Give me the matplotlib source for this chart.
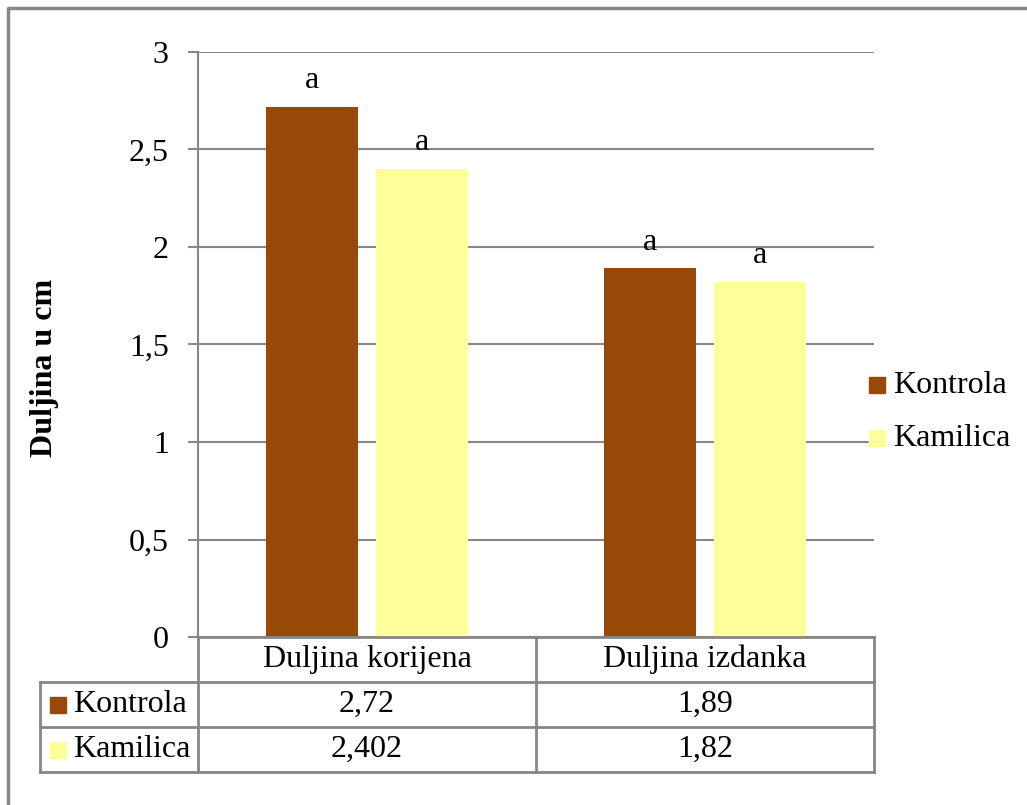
import matplotlib.pyplot as plt
from matplotlib.lines import Line2D
from matplotlib.patches import Rectangle

# Donnees
kategorije = ["Duljina korijena", "Duljina izdanka"]
serije = ["Kontrola", "Kamilica"]
kontrola = [2.72, 1.89]
kamilica = [2.402, 1.82]
tekst_kontrola = ["2,72", "1,89"]
tekst_kamilica = ["2,402", "1,82"]
oznake = ["a", "a"]
yticks = [0, 0.5, 1, 1.5, 2, 2.5, 3]
ytick_labels = ["0", "0,5", "1", "1,5", "2", "2,5", "3"]

boje = ["#984807", "#FFFF99"]
siva = "#878787"

W, H = 1027, 805
plt.rcParams['font.family'] = ['Liberation Serif', 'DejaVu Serif']
fs = 23

fig = plt.figure(figsize=(W / 100, H / 100), dpi=100)

def fx(px):
    return px / W

def fy(py):
    return 1 - py / H

# zone du graphique
x0, x1, y0, y1 = 198, 874, 52, 637
ax = fig.add_axes([fx(x0), fy(y1), fx(x1 - x0), (y1 - y0) / H])

sirina = 0.272
pomak = 0.1625
pos = range(len(kategorije))
ax.bar([p - pomak for p in pos], kontrola, sirina, color=boje[0], zorder=3)
ax.bar([p + pomak for p in pos], kamilica, sirina, color=boje[1], zorder=3)

# lettres de signification
for p, v, o in zip(pos, kontrola, oznake):
    ax.text(p - pomak, v + 0.06, o, ha="center", va="bottom", fontsize=fs)
for p, v, o in zip(pos, kamilica, oznake):
    ax.text(p + pomak, v + 0.06, o, ha="center", va="bottom", fontsize=fs)

ax.set_xlim(-0.5, len(kategorije) - 0.5)
ax.set_ylim(0, 3)
ax.set_yticks(yticks)
ax.set_yticklabels(ytick_labels, fontsize=fs)
ax.set_xticks([])
ax.yaxis.grid(True, color=siva, linewidth=1.5, zorder=0)
ax.tick_params(axis="y", length=7, width=1.5, color=siva, pad=14)
for s in ["top", "right", "bottom"]:
    ax.spines[s].set_visible(False)
ax.spines["left"].set_color(siva)
ax.spines["left"].set_linewidth(1.5)

# titre de l'axe y
fig.text(fx(45), fy(368), "Duljina u cm", rotation=90, ha="center", va="center",
         fontsize=fs, fontweight="bold")

# tableau de donnees
xs = [40, 198, 536, 874]
ys = [637, 682, 727, 772]

def linija(xa, ya, xb, yb):
    fig.add_artist(Line2D([fx(xa), fx(xb)], [fy(ya), fy(yb)], color=siva, linewidth=2))

linija(xs[1], ys[0], xs[3], ys[0])
for y in ys[1:]:
    linija(xs[0], y, xs[3], y)
linija(xs[0], ys[1], xs[0], ys[3])
for x in xs[1:]:
    linija(x, ys[0], x, ys[3])

for i, k in enumerate(kategorije):
    fig.text(fx((xs[i + 1] + xs[i + 2]) / 2), fy((ys[0] + ys[1]) / 2), k,
             ha="center", va="center", fontsize=fs)

redovi = [tekst_kontrola, tekst_kamilica]
for r, (naziv, vrijednosti) in enumerate(zip(serije, redovi)):
    yc = (ys[r + 1] + ys[r + 2]) / 2
    fig.add_artist(Rectangle((fx(50), fy(yc + 8)), fx(16), 16 / H,
                             color=boje[r], transform=fig.transFigure))
    fig.text(fx(73), fy(yc), naziv, ha="left", va="center", fontsize=fs)
    for i, v in enumerate(vrijednosti):
        fig.text(fx((xs[i + 1] + xs[i + 2]) / 2), fy(yc), v,
                 ha="center", va="center", fontsize=fs)

# legende
for r, (naziv, yc) in enumerate(zip(serije, [385, 438])):
    fig.add_artist(Rectangle((fx(869), fy(yc + 8)), fx(16), 16 / H,
                             color=boje[r], transform=fig.transFigure))
    fig.text(fx(893), fy(yc), naziv, ha="left", va="center", fontsize=fs)

# cadre exterieur
fig.add_artist(Line2D([fx(8), fx(8), 1], [0, fy(8), fy(8)], color=siva, linewidth=2.5))

fig.savefig("out.png", dpi=100)
